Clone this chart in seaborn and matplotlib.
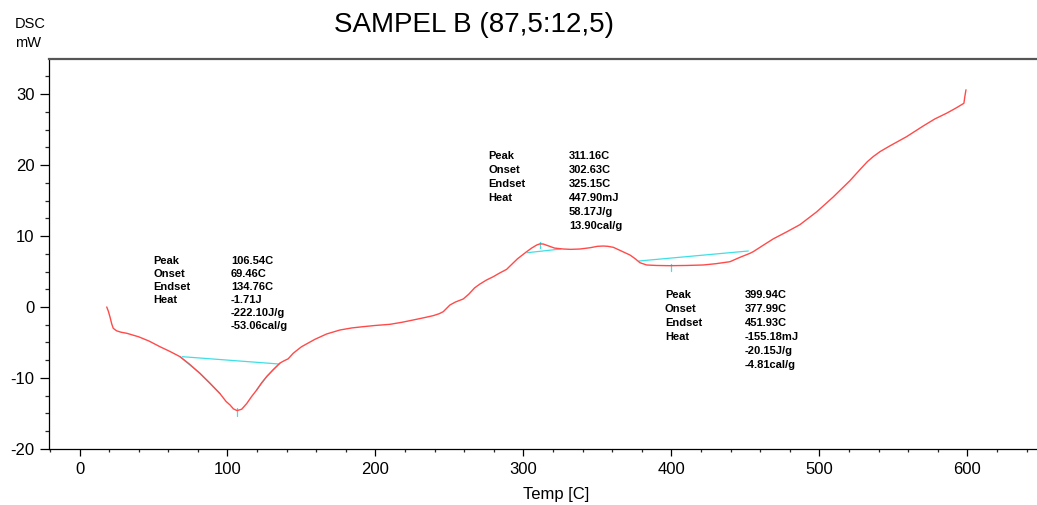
#!/usr/bin/env python3
# DSC thermogram of sample B with the three analysed peaks.

import numpy as np
import pandas as pd
import seaborn as sns
import matplotlib.pyplot as plt
from matplotlib.ticker import MultipleLocator

# --- curve ---
TEMP = [18.4, 19.5, 20.6, 21.8, 22.8, 25.0, 28.0, 31.9, 40.0, 47.0, 54.4, 61.0,
        67.9, 74.0, 81.4, 88.0, 94.9, 99.0, 101.7, 104.0, 106.5, 109.6, 113.0,
        116.0, 119.7, 123.0, 126.5, 131.0, 135.5, 138.0, 141.0, 144.5, 150.0,
        159.1, 167.0, 176.0, 184.0, 191.8, 200.0, 209.8, 218.0, 225.5, 233.0,
        239.0, 243.0, 245.8, 248.0, 250.3, 254.0, 259.3, 263.0, 267.0, 270.6,
        275.0, 279.6, 284.0, 288.6, 290.9, 296.0, 302.2, 305.5, 308.9, 311.2,
        313.4, 317.0, 321.0, 326.9, 332.0, 338.2, 345.0, 350.0, 353.9, 357.0,
        360.7, 366.0, 372.0, 375.5, 378.7, 383.2, 390.0, 398.6, 410.0, 421.5,
        430.0, 439.5, 446.3, 453.0, 455.3, 462.0, 468.8, 478.0, 486.8, 498.1,
        509.3, 520.6, 528.0, 532.5, 536.4, 541.0, 547.6, 558.9, 570.1, 578.0,
        585.9, 592.0, 597.6, 598.2, 599.0]
DSC_MW = [0.0, -0.6, -1.4, -2.4, -3.0, -3.35, -3.55, -3.7, -4.2, -4.8, -5.6, -6.25,
          -7.0, -8.0, -9.35, -10.7, -12.2, -13.3, -13.8, -14.35, -14.6, -14.4, -13.6,
          -12.7, -11.7, -10.7, -9.8, -8.8, -7.9, -7.6, -7.3, -6.5, -5.6,
          -4.55, -3.8, -3.24, -2.95, -2.77, -2.6, -2.44, -2.15, -1.83, -1.5,
          -1.22, -0.95, -0.66, -0.2, 0.28, 0.7, 1.13, 1.8, 2.7, 3.24,
          3.8, 4.27, 4.8, 5.3, 5.77, 6.8, 7.8, 8.3, 8.73, 8.9,
          8.87, 8.6, 8.3, 8.17, 8.12, 8.17, 8.35, 8.55, 8.59, 8.55,
          8.41, 7.9, 7.32, 6.8, 6.24, 5.92, 5.85, 5.82, 5.85, 5.92,
          6.1, 6.38, 7.0, 7.56, 7.8, 8.7, 9.6, 10.6, 11.6, 13.4,
          15.5, 17.8, 19.5, 20.5, 21.2, 21.9, 22.7, 24.0, 25.5, 26.5,
          27.3, 28.0, 28.7, 29.6, 30.6]

# --- peak analysis (onset / endset baselines, peak markers) ---
PEAK_T     = [106.54, 311.16, 399.94]
ONSET_T    = [69.46, 302.63, 377.99]
ENDSET_T   = [134.76, 325.15, 451.93]
ONSET_V    = [-7.0, 7.65, 6.48]
ENDSET_V   = [-8.03, 8.17, 7.89]
PEAK_TICK_TOP = [-14.3, 9.1, 6.05]
PEAK_TICK_BOT = [-15.3, 8.35, 5.1]
# onset/endset tangents of the big endotherm
TANGENT_1 = ([67.9, 81.4, 94.9], [-7.0, -9.35, -12.2])
TANGENT_2 = ([119.7, 126.5, 135.5], [-11.7, -9.8, -7.9])

HEAT_TEXT = [["-1.71J", "-222.10J/g", "-53.06cal/g"],
             ["447.90mJ", "58.17J/g", "13.90cal/g"],
             ["-155.18mJ", "-20.15J/g", "-4.81cal/g"]]
ROW_NAMES = ["Peak", "Onset", "Endset", "Heat"]

# where each text block sits (data coords)
BLOCK_LABEL_X = [49.9, 276.2, 395.6]
BLOCK_VALUE_X = [102.2, 330.7, 449.7]
BLOCK_TOP_Y   = [6.52, 21.31, 1.69]
BLOCK_STEP_Y  = [1.83, 1.97, 1.97]

RED  = "#ff4a4a"
CYAN = "#3ee0e6"


def main():
    df = pd.DataFrame({"temp": TEMP, "dsc": DSC_MW})

    sns.set_theme(style="white")
    plt.rcParams["font.family"] = ["Liberation Sans", "DejaVu Sans"]
    plt.rcParams["axes.unicode_minus"] = False
    plt.rcParams["text.color"] = "black"
    plt.rcParams["axes.labelcolor"] = "black"

    fig = plt.figure(figsize=(10.37, 5.05), dpi=100)
    ax = fig.add_axes([0.0477, 0.110, 0.9523, 0.7726])

    sns.lineplot(data=df, x="temp", y="dsc", sort=False, estimator=None,
                 color=RED, linewidth=1.0, ax=ax, zorder=3)

    # baselines + peak ticks
    for k in range(3):
        ax.plot([ONSET_T[k], ENDSET_T[k]], [ONSET_V[k], ENDSET_V[k]],
                color=CYAN, lw=0.9, zorder=2)
        ax.plot([PEAK_T[k], PEAK_T[k]], [PEAK_TICK_TOP[k], PEAK_TICK_BOT[k]],
                color=CYAN, lw=0.9, zorder=2)
    for tx, ty in (TANGENT_1, TANGENT_2):
        ax.plot(tx, ty, color=CYAN, lw=0.9, zorder=2)

    # text blocks
    for k in range(3):
        values = [f"{PEAK_T[k]:.2f}C", f"{ONSET_T[k]:.2f}C", f"{ENDSET_T[k]:.2f}C"] + HEAT_TEXT[k]
        for i, name in enumerate(ROW_NAMES):
            ax.text(BLOCK_LABEL_X[k], BLOCK_TOP_Y[k] - i * BLOCK_STEP_Y[k], name,
                    fontsize=8, fontweight="bold", ha="left", va="center", color="black")
        for i, val in enumerate(values):
            ax.text(BLOCK_VALUE_X[k], BLOCK_TOP_Y[k] - i * BLOCK_STEP_Y[k], val,
                    fontsize=8, fontweight="bold", ha="left", va="center", color="black")

    ax.set_xlim(-20.3, 647)
    ax.set_ylim(-20.07, 34.9)
    ax.xaxis.set_major_locator(MultipleLocator(100))
    ax.xaxis.set_minor_locator(MultipleLocator(20))
    ax.yaxis.set_major_locator(MultipleLocator(10))
    ax.yaxis.set_minor_locator(MultipleLocator(2.5))

    ax.tick_params(axis="y", which="major", direction="out", length=6.3, width=0.9,
                   labelsize=12, pad=4.5, left=True, colors="black")
    ax.tick_params(axis="y", which="minor", direction="out", length=3.2, width=0.9, left=True)
    ax.tick_params(axis="x", which="major", direction="out", length=4.8, width=0.9,
                   labelsize=12, pad=4.0, bottom=True, colors="black")
    ax.tick_params(axis="x", which="minor", direction="out", length=2.4, width=0.9, bottom=True)

    ax.set_xlabel("Temp [C]", fontsize=12)
    ax.set_ylabel("")
    ax.xaxis.set_label_coords(0.513, -0.095)

    ax.spines["right"].set_visible(False)
    ax.spines["top"].set_color("#555555")
    ax.spines["top"].set_linewidth(1.6)
    for side in ("left", "bottom"):
        ax.spines[side].set_color("black")
        ax.spines[side].set_linewidth(0.9)
    ax.grid(False)

    fig.text(0.457, 0.950, "SAMPEL B (87,5:12,5)", fontsize=20, ha="center", va="center")
    fig.text(0.0145, 0.953, "DSC", fontsize=10.5, ha="left", va="center")
    fig.text(0.0145, 0.914, "mW", fontsize=10.5, ha="left", va="center")

    fig.savefig("out.png", dpi=100)


if __name__ == "__main__":
    main()
